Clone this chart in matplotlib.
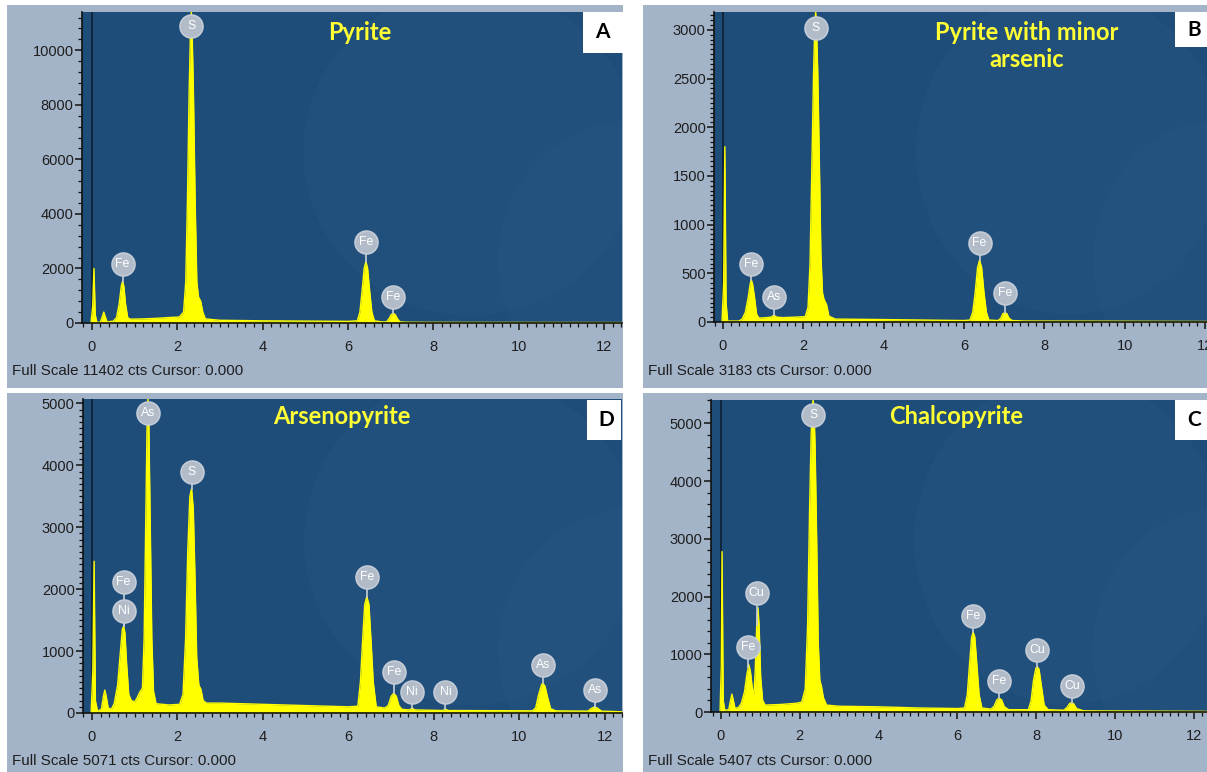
import numpy as np
import matplotlib
matplotlib.use("Agg")
import matplotlib.pyplot as plt
from matplotlib.patches import Rectangle, Ellipse
from matplotlib.ticker import MultipleLocator

W, H = 1207, 772

# ---------------- data (energy keV, counts) ----------------
A_E = [-0.02, 0.02, 0.05, 0.08, 0.12, 0.20, 0.25, 0.28, 0.31, 0.36, 0.45, 0.50, 0.58, 0.64, 0.69, 0.72,
       0.75, 0.79, 0.84, 0.90, 1.20, 1.50, 1.80, 2.05, 2.15, 2.20, 2.24, 2.28, 2.31, 2.33, 2.35, 2.38,
       2.42, 2.46, 2.50, 2.55, 2.60, 2.66, 3.0, 4.0, 5.0, 6.0, 6.22, 6.28, 6.33, 6.38, 6.42, 6.46, 6.51,
       6.56, 6.62, 6.80, 6.90, 6.96, 7.01, 7.06, 7.11, 7.16, 7.22, 7.40, 9.0, 12.4]
A_C = [0, 600, 2000, 300, 20, 30, 250, 400, 250, 30, 60, 60, 200, 700, 1350, 1520,
       1350, 700, 200, 140, 150, 170, 200, 220, 400, 1500, 4500, 8500, 10600, 11402, 10600, 8500,
       4500, 1500, 950, 800, 400, 150, 100, 80, 70, 60, 80, 400, 1150, 2000, 2250, 2000, 1150,
       400, 80, 40, 40, 150, 300, 360, 300, 150, 40, 25, 20, 15]
A_LAB = ["S", "Fe", "Fe", "Fe"]
A_LE = [2.33, 0.72, 6.42, 7.06]
A_LY = [10880, 2170, 2980, 955]

B_E = [-0.02, 0.02, 0.05, 0.08, 0.12, 0.40, 0.48, 0.56, 0.63, 0.68, 0.71, 0.74, 0.79, 0.84, 0.90, 1.10,
       1.20, 1.27, 1.34, 1.50, 1.80, 2.05, 2.12, 2.17, 2.22, 2.26, 2.29, 2.31, 2.33, 2.36, 2.40, 2.44,
       2.48, 2.52, 2.58, 2.64, 2.80, 4.0, 6.0, 6.15, 6.22, 6.28, 6.34, 6.39, 6.44, 6.50, 6.56, 6.62,
       6.85, 6.92, 6.97, 7.02, 7.07, 7.12, 7.20, 7.50, 12.1]
B_C = [0, 400, 1800, 200, 10, 10, 30, 100, 250, 390, 430, 390, 250, 80, 40, 45,
       50, 70, 50, 45, 50, 55, 150, 600, 1700, 2600, 3050, 3183, 3050, 2600, 1700, 700,
       300, 230, 180, 60, 30, 25, 15, 20, 100, 300, 560, 635, 560, 300, 100, 20,
       15, 40, 85, 95, 85, 40, 15, 10, 5]
B_LAB = ["S", "Fe", "As", "Fe", "Fe"]
B_LE = [2.31, 0.71, 1.27, 6.39, 7.02]
B_LY = [3020, 600, 255, 810, 295]

D_E = [-0.02, 0.02, 0.05, 0.08, 0.13, 0.22, 0.27, 0.30, 0.33, 0.38, 0.45, 0.52, 0.60, 0.66, 0.71, 0.74,
       0.77, 0.81, 0.86, 0.92, 1.00, 1.06, 1.12, 1.18, 1.22, 1.26, 1.29, 1.31, 1.33, 1.36, 1.40, 1.44,
       1.50, 1.80, 2.05, 2.13, 2.19, 2.24, 2.29, 2.33, 2.37, 2.41, 2.45, 2.50, 2.55, 2.60, 2.68, 3.0,
       4.0, 5.0, 6.0, 6.22, 6.28, 6.33, 6.38, 6.43, 6.48, 6.53, 6.58, 6.65, 6.85, 6.93, 7.00, 7.06,
       7.12, 7.18, 7.25, 7.42, 7.49, 7.56, 8.20, 8.27, 8.34, 10.30, 10.38, 10.45, 10.52, 10.55, 10.60,
       10.66, 10.73, 10.85, 11.60, 11.70, 11.76, 11.82, 11.92, 12.4]
D_C = [0, 700, 2450, 200, 30, 60, 280, 370, 280, 80, 60, 150, 450, 950, 1350, 1400,
       1300, 800, 300, 200, 180, 250, 340, 400, 1200, 3200, 4700, 5071, 4700, 3200, 1200, 350,
       150, 130, 140, 300, 1200, 2600, 3500, 3620, 3300, 2200, 900, 450, 380, 200, 160, 160,
       140, 120, 100, 110, 500, 1150, 1750, 1880, 1750, 1150, 500, 100, 80, 120, 270, 320,
       270, 120, 60, 50, 75, 50, 40, 60, 40, 35, 80, 300, 460, 480, 430,
       250, 70, 35, 30, 80, 100, 80, 30, 20]
D_LAB = ["As", "S", "Fe", "Ni", "Fe", "Fe", "Ni", "Ni", "As", "As"]
D_LE = [1.31, 2.33, 0.74, 0.74, 6.43, 7.06, 7.49, 8.27, 10.55, 11.76]
D_LY = [4840, 3900, 2110, 1640, 2190, 660, 340, 340, 780, 370]

C_E = [-0.02, 0.01, 0.03, 0.06, 0.10, 0.20, 0.25, 0.28, 0.31, 0.36, 0.45, 0.52, 0.60, 0.66, 0.71, 0.75,
       0.80, 0.84, 0.87, 0.91, 0.94, 0.97, 1.01, 1.06, 1.12, 1.50, 1.90, 2.05, 2.14, 2.20, 2.25, 2.29,
       2.32, 2.34, 2.36, 2.39, 2.43, 2.47, 2.51, 2.55, 2.60, 2.68, 3.0, 4.0, 5.0, 6.0, 6.18, 6.25,
       6.31, 6.36, 6.40, 6.44, 6.49, 6.55, 6.62, 6.85, 6.93, 7.00, 7.06, 7.12, 7.19, 7.30, 7.80, 7.87,
       7.93, 7.99, 8.03, 8.07, 8.13, 8.20, 8.30, 8.70, 8.78, 8.85, 8.90, 8.95, 9.02, 9.20, 12.4]
C_C = [0, 800, 2780, 200, 30, 40, 220, 310, 220, 60, 80, 150, 350, 650, 820, 700,
       400, 300, 700, 1500, 1810, 1500, 600, 200, 120, 130, 150, 170, 400, 1500, 3500, 4800,
       5300, 5407, 5300, 4600, 3000, 1200, 550, 450, 250, 120, 100, 90, 70, 60, 70, 300,
       850, 1300, 1380, 1300, 850, 300, 70, 50, 100, 210, 240, 210, 90, 40, 40, 200,
       550, 760, 780, 740, 450, 120, 40, 30, 80, 150, 160, 140, 60, 20, 10]
C_LAB = ["S", "Cu", "Fe", "Fe", "Fe", "Cu", "Cu"]
C_LE = [2.34, 0.91, 0.70, 6.40, 7.06, 8.03, 8.90]
C_LY = [5140, 2070, 1130, 1670, 540, 1080, 450]

TITLES = ["Pyrite", "Pyrite with minor\narsenic", "Arsenopyrite", "Chalcopyrite"]
LETTERS = ["A", "B", "D", "C"]
FULL_SCALE = [11402, 3183, 5071, 5407]

# ---------------- layout (pixels) ----------------
panels = [
    dict(E=A_E, C=A_C, lab=A_LAB, le=A_LE, ly=A_LY, bg=(7, 5, 623, 388), ax=(82, 12, 622, 323),
         xlim=(-0.23, 12.42), ymaj=2000, ymin=400, title_xy=(360, 33), box=(583, 12, 623, 53),
         fs_xy=(12, 371)),
    dict(E=B_E, C=B_C, lab=B_LAB, le=B_LE, ly=B_LY, bg=(643, 5, 1207, 388), ax=(714, 12, 1207, 322),
         xlim=(-0.22, 12.05), ymaj=500, ymin=50, title_xy=(1027, 46), box=(1175, 12, 1207, 47),
         fs_xy=(648, 371)),
    dict(E=D_E, C=D_C, lab=D_LAB, le=D_LE, ly=D_LY, bg=(7, 393, 623, 772), ax=(83, 399, 622, 713),
         xlim=(-0.21, 12.4), ymaj=1000, ymin=100, title_xy=(342, 416), box=(587, 400, 621, 440),
         fs_xy=(12, 761)),
    dict(E=C_E, C=C_C, lab=C_LAB, le=C_LE, ly=C_LY, bg=(643, 393, 1207, 772), ax=(711, 400, 1207, 712),
         xlim=(-0.25, 12.33), ymaj=1000, ymin=200, title_xy=(956, 416), box=(1175, 400, 1207, 440),
         fs_xy=(648, 761)),
]

BLUE = "#1f4d7a"
LIGHT = "#a3b3c8"
YELLOW = "#ffff00"
BUBBLE = "#b2bcc9"
TXT = "#1e1e1e"
tick_font = ["Liberation Sans", "DejaVu Sans"]
title_font = ["Lato", "DejaVu Sans"]


def frect(x0, y0, x1, y1):
    return [x0 / W, 1 - y1 / H, (x1 - x0) / W, (y1 - y0) / H]


fig = plt.figure(figsize=(W / 100, H / 100), dpi=100, facecolor="white")

for i, p in enumerate(panels):
    x0, y0, x1, y1 = p["bg"]
    fig.patches.append(Rectangle((x0 / W, 1 - y1 / H), (x1 - x0) / W, (y1 - y0) / H,
                                 transform=fig.transFigure, facecolor=LIGHT, edgecolor="none", zorder=-5))
    ax = fig.add_axes(frect(*p["ax"]))
    ax.set_zorder(1)
    ax.set_facecolor(BLUE)
    # subtle lighter blobs of the background photo
    ax.add_patch(Ellipse((0.72, 0.55), 0.62, 1.05, transform=ax.transAxes, facecolor="#2a5884",
                         edgecolor="none", alpha=0.35, zorder=0))
    ax.add_patch(Ellipse((1.02, 0.2), 0.5, 0.9, transform=ax.transAxes, facecolor="#2a5884",
                         edgecolor="none", alpha=0.35, zorder=0))
    fs = FULL_SCALE[i]
    ax.set_xlim(*p["xlim"])
    ax.set_ylim(0, fs)
    ax.axvline(0, color="#0d1f33", lw=1.2, zorder=1)
    E = np.array(p["E"], dtype=float)
    Cc = np.array(p["C"], dtype=float)
    ax.fill_between(E, Cc, 0, color=YELLOW, lw=0, zorder=2)
    ax.plot(E, Cc, color=YELLOW, lw=1.0, zorder=2)
    # peak labels
    for t, le, ly in zip(p["lab"], p["le"], p["ly"]):
        top = np.interp(le, E, Cc)
        ax.plot([le, le], [min(top, ly), ly], color="#c8d0da", lw=1.2, zorder=3)
    for t, le, ly in zip(p["lab"], p["le"], p["ly"]):
        ax.plot([le], [ly], marker="o", ms=16.5, mfc=BUBBLE, mec="#c4ccd7", mew=1.2, zorder=4)
        ax.text(le, ly, t, ha="center", va="center", color="white", fontsize=8.8,
                family=tick_font, zorder=5)
    # axes styling
    for s in ["top", "right"]:
        ax.spines[s].set_visible(False)
    for s in ["left", "bottom"]:
        ax.spines[s].set_color("#111111")
        ax.spines[s].set_linewidth(1.2)
    ax.xaxis.set_minor_locator(MultipleLocator(0.2))
    ax.yaxis.set_minor_locator(MultipleLocator(p["ymin"]))
    ax.tick_params(axis="both", which="major", length=5, width=1.1, color="#111111",
                   labelcolor=TXT, labelsize=10.5)
    ax.tick_params(axis="both", which="minor", length=3, width=0.9, color="#111111")
    ax.tick_params(axis="x", which="major", pad=7)
    ax.tick_params(axis="y", which="major", pad=1)
    ax.set_xticks(np.arange(0, 13, 2))
    ax.set_xticklabels([str(v) for v in range(0, 13, 2)], family=tick_font)
    ax.set_xlim(*p["xlim"])
    ax.set_yticks(np.arange(0, fs + 1, p["ymaj"]))
    ax.set_yticklabels([str(int(v)) for v in np.arange(0, fs + 1, p["ymaj"])], family=tick_font)
    ax.set_ylim(0, fs)
    # title
    tx, ty = p["title_xy"]
    fig.text(tx / W, 1 - ty / H, TITLES[i], ha="center", va="center", color="#ffff33",
             fontsize=17, fontweight="bold", family=title_font, linespacing=1.25, zorder=6)
    # letter box
    bx0, by0, bx1, by1 = p["box"]
    fig.patches.append(Rectangle((bx0 / W, 1 - by1 / H), (bx1 - bx0) / W, (by1 - by0) / H,
                                 transform=fig.transFigure, facecolor="white", edgecolor="none", zorder=5))
    fig.text((bx0 + 19) / W, 1 - (by0 + by1) / 2 / H, LETTERS[i], ha="center", va="center",
             color="black", fontsize=15, fontweight="bold", family=title_font, zorder=6)
    # full scale text
    fx, fy = p["fs_xy"]
    fig.text(fx / W, 1 - fy / H, f"Full Scale {fs} cts Cursor: 0.000", ha="left", va="center",
             color=TXT, fontsize=10.9, family=tick_font, zorder=6)

fig.savefig("out.png", dpi=100, facecolor="white")
